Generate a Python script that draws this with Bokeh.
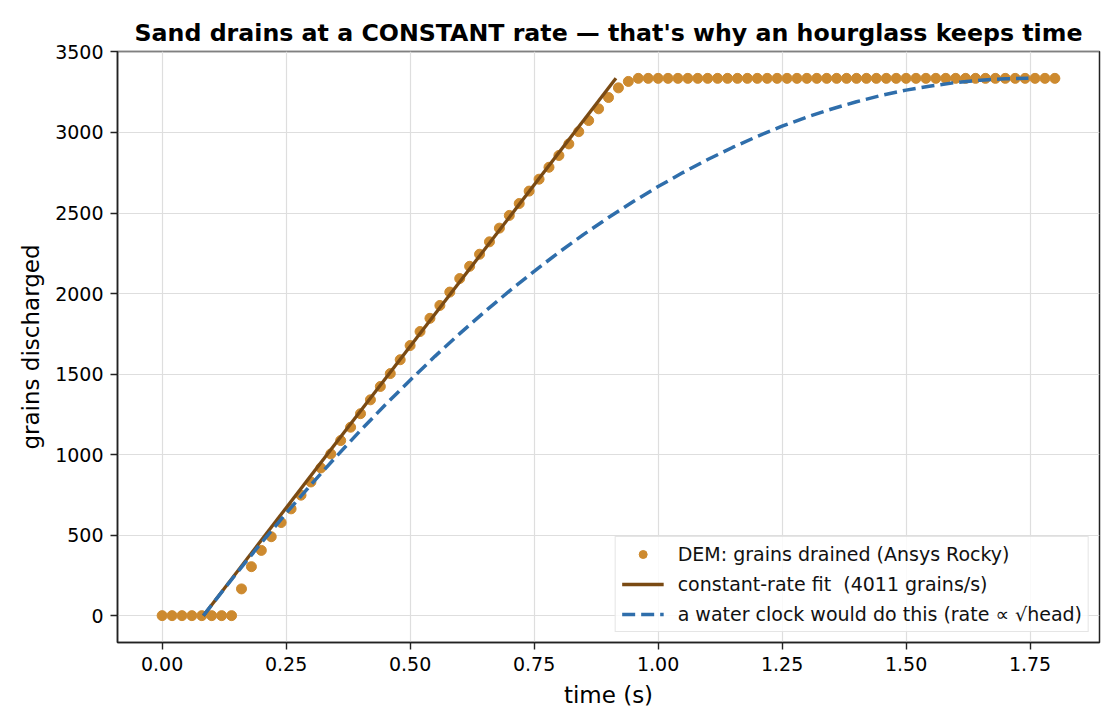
from bokeh.plotting import figure
from bokeh.models import Range1d, FixedTicker, PrintfTickFormatter, Legend, LegendItem
from bokeh.embed import file_html
from bokeh.resources import INLINE

# DEM samples: time (s) and grains drained
dem_t = [round(0.02 * i, 2) for i in range(91)]
dem_y = [0, 0, 0, 0, 0, 0, 0, 0,
         166, 304, 405, 490, 578, 663, 748, 830, 917, 1004,
         1087, 1170, 1254, 1340, 1423, 1503, 1589, 1677, 1764, 1846,
         1926, 2009, 2093, 2169, 2244, 2321, 2406, 2485, 2559, 2636,
         2710, 2784, 2857, 2929, 3005, 3074, 3147, 3217, 3277, 3317] + [3336] * 43

# constant-rate fit (4011 grains/s)
fit_t = [0.0832, 0.915]
fit_y = [0, 3336]

# water clock comparison curve
wc_t = [0.0832, 0.10, 0.15, 0.20, 0.25, 0.30, 0.35, 0.40, 0.45, 0.50, 0.55,
        0.60, 0.65, 0.70, 0.75, 0.80, 0.85, 0.90, 0.95, 1.00, 1.05, 1.10,
        1.15, 1.20, 1.25, 1.30, 1.35, 1.40, 1.45, 1.50, 1.55, 1.60, 1.65,
        1.70, 1.7467]
wc_y = [0, 67, 263, 452, 636, 813, 984, 1150, 1309, 1462, 1610,
        1751, 1886, 2015, 2138, 2256, 2367, 2472, 2571, 2664, 2751, 2832,
        2907, 2976, 3039, 3096, 3146, 3191, 3230, 3263, 3289, 3310, 3325,
        3333, 3336]

x_ticks = [0.0, 0.25, 0.5, 0.75, 1.0, 1.25, 1.5, 1.75]
y_ticks = [0, 500, 1000, 1500, 2000, 2500, 3000, 3500]

title = "Sand drains at a CONSTANT rate \u2014 that's why an hourglass keeps time"
FONT = "DejaVu Sans"

p = figure(width=1104, height=712, output_backend="svg", toolbar_location=None,
           x_range=Range1d(-0.09, 1.89), y_range=Range1d(-166.8, 3502.8),
           min_border_left=117, min_border_right=5, min_border_top=51,
           min_border_bottom=70)

p.title.text = title
p.title.text_font = FONT
p.title.text_font_size = "23.7px"
p.title.text_font_style = "bold"
p.title.align = "center"
p.title.text_color = "black"

p.outline_line_color = "#222222"
p.outline_line_width = 1.5
p.background_fill_color = "white"
p.border_fill_color = "white"

for ax in (p.xaxis[0], p.yaxis[0]):
    ax.axis_line_color = "#222222"
    ax.axis_line_width = 1.5
    ax.major_tick_line_color = "#222222"
    ax.major_tick_line_width = 1.4
    ax.major_tick_in = 0
    ax.major_tick_out = 7
    ax.minor_tick_line_color = None
    ax.major_label_text_font = FONT
    ax.major_label_text_font_size = "19px"
    ax.major_label_text_color = "black"
    ax.axis_label_text_font = FONT
    ax.axis_label_text_font_size = "23px"
    ax.axis_label_text_font_style = "normal"
    ax.axis_label_text_color = "black"
    ax.major_label_standoff = 7
    ax.axis_label_standoff = 8

p.xaxis.ticker = FixedTicker(ticks=x_ticks)
p.xaxis.formatter = PrintfTickFormatter(format="%.2f")
p.yaxis.ticker = FixedTicker(ticks=y_ticks)
p.yaxis.formatter = PrintfTickFormatter(format="%d")
p.xaxis.axis_label = "time (s)"
p.yaxis.axis_label = "grains discharged"

p.xgrid.grid_line_color = "#dedede"
p.ygrid.grid_line_color = "#dedede"
p.xgrid.grid_line_width = 1.2
p.ygrid.grid_line_width = 1.2

r_dots = p.scatter(dem_t, dem_y, size=10, marker="circle",
                   fill_color="#cd8a2f", line_color="#cd8a2f")
r_fit = p.line(fit_t, fit_y, line_color="#7a4a13", line_width=3.3)
r_wc = p.line(wc_t, wc_y, line_color="#2f6eab", line_width=3.5, line_dash="13 6")

legend = Legend(items=[
    LegendItem(label="DEM: grains drained (Ansys Rocky)", renderers=[r_dots]),
    LegendItem(label="constant-rate fit  (4011 grains/s)", renderers=[r_fit]),
    LegendItem(label="a water clock would do this (rate \u221d \u221ahead)", renderers=[r_wc]),
], location="bottom_right")
legend.label_text_font = FONT
legend.label_text_font_size = "19px"
legend.label_text_color = "#111111"
legend.glyph_width = 42
legend.glyph_height = 20
legend.label_height = 20
legend.spacing = 8
legend.padding = 6
legend.margin = 10
legend.label_standoff = 14
legend.border_line_color = "#cccccc"
legend.border_line_width = 1.2
legend.background_fill_color = "white"
legend.background_fill_alpha = 0.85
p.add_layout(legend)

open("out.html", "w").write(file_html(p, INLINE))
